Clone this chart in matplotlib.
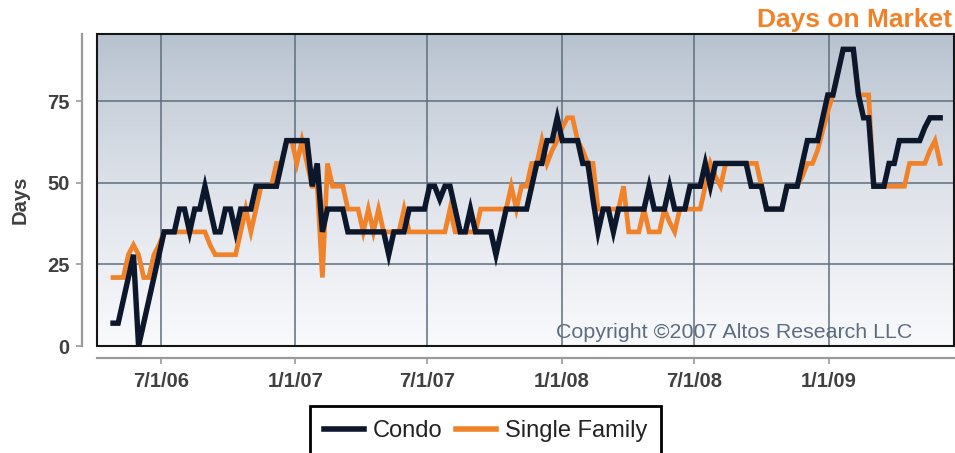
import numpy as np
import pandas as pd
import matplotlib
matplotlib.use("Agg")
import matplotlib.pyplot as plt
from matplotlib.colors import LinearSegmentedColormap
from matplotlib.patches import Rectangle
from matplotlib.lines import Line2D

plt.rcParams['font.family'] = ['Liberation Sans', 'DejaVu Sans']

# ---------------- data ----------------
start_date = "2006-04-26"
condo = [7, 7, 14, 21, 28, 0, 7, 14, 21, 28,
         35, 35, 35, 42, 42, 35, 42, 42, 49, 42,
         35, 35, 42, 42, 35, 42, 42, 42, 49, 49,
         49, 49, 49, 56, 63, 63, 63, 63, 63, 49,
         56, 35, 42, 42, 42, 42, 35, 35, 35, 35,
         35, 35, 35, 35, 28, 35, 35, 35, 42, 42,
         42, 42, 49, 49, 45, 49, 49, 42, 35, 35,
         42, 35, 35, 35, 35, 28, 35, 42, 42, 42,
         42, 42, 49, 56, 56, 63, 63, 70, 63, 63,
         63, 63, 56, 56, 45, 35, 42, 42, 35, 42,
         42, 42, 42, 42, 42, 49, 42, 42, 42, 49,
         42, 42, 42, 49, 49, 49, 56, 49, 56, 56,
         56, 56, 56, 56, 56, 49, 49, 49, 42, 42,
         42, 42, 49, 49, 49, 56, 63, 63, 63, 70,
         77, 77, 84, 91, 91, 91, 77, 70, 70, 49,
         49, 49, 56, 56, 63, 63, 63, 63, 63, 67,
         70, 70, 70]
single_family = [21, 21, 21, 28, 31, 28, 21, 21, 28, 31,
                 35, 35, 35, 35, 35, 35, 35, 35, 35, 31,
                 28, 28, 28, 28, 28, 35, 42, 35, 42, 49,
                 49, 49, 56, 56, 63, 63, 56, 63, 56, 49,
                 49, 21, 56, 49, 49, 49, 42, 42, 42, 35,
                 42, 35, 42, 35, 35, 35, 35, 42, 35, 35,
                 35, 35, 35, 35, 35, 35, 42, 35, 35, 35,
                 35, 35, 42, 42, 42, 42, 42, 42, 49, 42,
                 49, 49, 56, 56, 63, 56, 60, 63, 67, 70,
                 70, 63, 60, 56, 56, 42, 42, 42, 42, 42,
                 49, 35, 35, 35, 42, 35, 35, 35, 42, 38,
                 35, 42, 42, 42, 42, 42, 49, 56, 52, 49,
                 56, 56, 56, 56, 56, 56, 56, 49, 42, 42,
                 42, 42, 49, 49, 49, 52, 56, 56, 60, 66,
                 72, 77, 84, 91, 91, 91, 77, 77, 77, 49,
                 49, 49, 49, 49, 49, 49, 56, 56, 56, 56,
                 60, 63, 56]
dates = pd.date_range(start_date, periods=len(condo), freq="7D")

tick_dates = ["2006-07-01", "2007-01-01", "2007-07-01", "2008-01-01",
              "2008-07-01", "2009-01-01"]
tick_labels = ["7/1/06", "1/1/07", "7/1/07", "1/1/08", "7/1/08", "1/1/09"]
y_ticks = [0, 25, 50, 75]

# ---------------- figure ----------------
W, H = 955, 453
fig = plt.figure(figsize=(W / 100, H / 100), dpi=100)
pos = [97 / W, (H - 346) / H, 857 / W, 312 / H]

bg = fig.add_axes(pos, zorder=0)
grad = np.linspace(0, 1, 256).reshape(-1, 1)
cmap = LinearSegmentedColormap.from_list("bg", ["#f9fafc", "#dfe3ea", "#b8c3d0"])
bg.imshow(grad, origin="lower", cmap=cmap, aspect="auto", extent=[0, 1, 0, 1])
bg.set_axis_off()

ax = fig.add_axes(pos, zorder=1)
ax.set_facecolor("none")

ax.plot(dates, single_family, color="#f0832a", lw=3.4, solid_joinstyle="miter",
        zorder=3, label="Single Family")
ax.plot(dates, condo, color="#0c172b", lw=3.9, solid_joinstyle="miter",
        zorder=4, label="Condo")

ax.set_xlim(pd.Timestamp("2006-04-04"), pd.Timestamp("2009-06-22"))
ax.set_ylim(0, 95.7)

ax.set_xticks(pd.to_datetime(tick_dates))
ax.set_xticklabels(tick_labels)
ax.set_yticks(y_ticks)
ax.set_yticklabels([str(v) for v in y_ticks])

ax.grid(True, color="#5f6e7d", lw=1.1, zorder=1)

for s in ["top", "right"]:
    ax.spines[s].set_visible(False)
ax.spines["left"].set_position(("outward", 10.8))
ax.spines["bottom"].set_position(("outward", 8.6))
for s in ["left", "bottom"]:
    ax.spines[s].set_color("#9a9a9a")
    ax.spines[s].set_linewidth(1.6)

ax.tick_params(axis="both", colors="#9a9a9a", length=4, width=1.2,
               labelcolor="#404040", labelsize=14.5)
ax.tick_params(axis="x", pad=6)
ax.tick_params(axis="y", pad=5)
for lab in ax.get_xticklabels() + ax.get_yticklabels():
    lab.set_fontweight("bold")

ax.add_patch(Rectangle((0, 0), 1, 1, transform=ax.transAxes, fill=False,
                       ec="#151515", lw=1.5, zorder=5, clip_on=False))

ax.text(0.951, 0.042, "Copyright \u00a92007 Altos Research LLC",
        transform=ax.transAxes, ha="right", va="center",
        fontsize=15.4, color="#5c6d82", zorder=2)

fig.text(952 / W, 1 - 20 / H, "Days on Market", ha="right", va="center",
         color="#f0832a", fontsize=19, fontweight="bold")
fig.text(20 / W, 1 - 200 / H, "Days", rotation=90, ha="center", va="center",
         color="#404040", fontsize=14.5, fontweight="bold")

handles = [Line2D([], [], color="#0c172b", lw=4),
           Line2D([], [], color="#f0832a", lw=4)]
leg = fig.legend(handles, ["Condo", "Single Family"], loc="upper center",
                 bbox_to_anchor=(485.5 / W, 1 - 406 / H), ncol=2, fontsize=17,
                 frameon=True, fancybox=False, edgecolor="black", framealpha=1,
                 borderpad=0.6, handlelength=1.7, handletextpad=0.35,
                 columnspacing=0.6, borderaxespad=0)
leg.get_frame().set_linewidth(2)
for t in leg.get_texts():
    t.set_color("#222222")

fig.savefig("out.png", dpi=100)
